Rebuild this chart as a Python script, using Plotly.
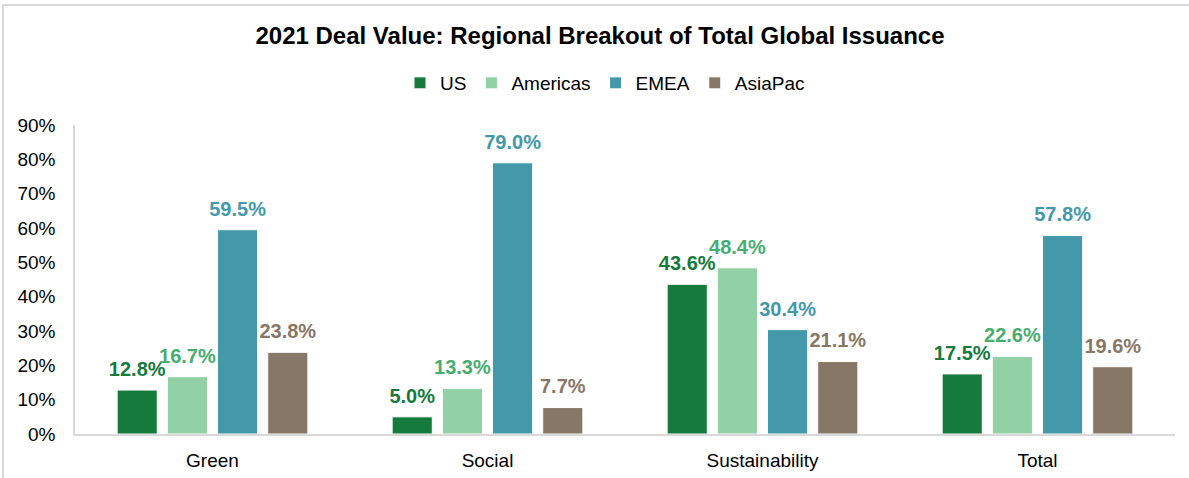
import plotly.graph_objects as go

categories = ["Green", "Social", "Sustainability", "Total"]
us = [0.128, 0.050, 0.436, 0.175]
americas = [0.167, 0.133, 0.484, 0.226]
emea = [0.595, 0.790, 0.304, 0.578]
asiapac = [0.238, 0.077, 0.211, 0.196]

series_names = ["US", "Americas", "EMEA", "AsiaPac"]
series_values = [us, americas, emea, asiapac]
bar_colors = ["#157A3C", "#92D1A6", "#4399A9", "#877766"]
label_colors = ["#157A3C", "#45AE6E", "#4399A9", "#877766"]

W, H = 1189, 478
ml, mr, mt, mb = 75, 14, 125, 44
pw, ph = W - ml - mr, H - mt - mb
BARGAP = 0.27
FONT = "Liberation Sans, Arial"

fig = go.Figure()
for i, (name, vals, bc) in enumerate(zip(series_names, series_values, bar_colors)):
    fig.add_trace(go.Bar(
        name=name, x=categories, y=vals, offsetgroup=str(i),
        marker=dict(color=bc, line=dict(color="#FFFFFF", width=1)),
        hovertemplate="%{x}: %{y:.1%}<extra>" + name + "</extra>",
    ))
# data labels, grouped to sit above their bars
for i, (name, vals, lc) in enumerate(zip(series_names, series_values, label_colors)):
    fig.add_trace(go.Scatter(
        x=categories, y=vals, offsetgroup=str(i), mode="markers+text",
        marker=dict(size=13, color="rgba(0,0,0,0)"),
        text=[f"{v*100:.1f}%" for v in vals], textposition="top center",
        textfont=dict(color=lc, size=20, family=FONT, weight="bold"),
        showlegend=False, hoverinfo="skip", cliponaxis=False,
    ))

fig.update_layout(
    width=W, height=H,
    margin=dict(l=ml, r=mr, t=mt, b=mb, autoexpand=False),
    paper_bgcolor="white", plot_bgcolor="white",
    font=dict(family=FONT, size=19, color="#000000"),
    barmode="group", bargap=BARGAP, bargroupgap=0.2,
    scattermode="group", scattergap=BARGAP,
    title=dict(text="<b>2021 Deal Value: Regional Breakout of Total Global Issuance</b>",
               x=600 / W, xanchor="center", y=1 - 36 / H, yanchor="middle",
               yref="container", xref="container",
               font=dict(size=24, color="#000000", family=FONT)),
    legend=dict(orientation="h", x=605 / W, xref="container", xanchor="center",
                y=1 - 83 / H, yref="container", yanchor="middle",
                font=dict(size=19), itemwidth=30, traceorder="normal"),
    showlegend=True,
)
fig.update_yaxes(range=[0, 0.9], dtick=0.1, tickformat=".0%", showgrid=False,
                 showline=True, linecolor="#D9D9D9", linewidth=1.5, zeroline=False,
                 ticks="", ticklabelstandoff=14, tickfont=dict(size=19), automargin=False)
fig.update_xaxes(showline=True, linecolor="#D9D9D9", linewidth=1.5, ticks="",
                 ticklabelstandoff=8, tickfont=dict(size=19), automargin=False)

# outer chart border (light gray), extends past right/bottom edges
fig.add_shape(type="rect", xref="paper", yref="paper",
              x0=(3 - ml) / pw, x1=(W + 10 - ml) / pw,
              y0=-(mb + 10) / ph, y1=1 + (mt - 5) / ph,
              line=dict(color="#D9D9D9", width=2), fillcolor="rgba(0,0,0,0)", layer="below")

fig.write_html("out.html", config={"displayModeBar": False},
               post_script="document.body.style.margin='0';document.body.style.overflow='hidden';")
